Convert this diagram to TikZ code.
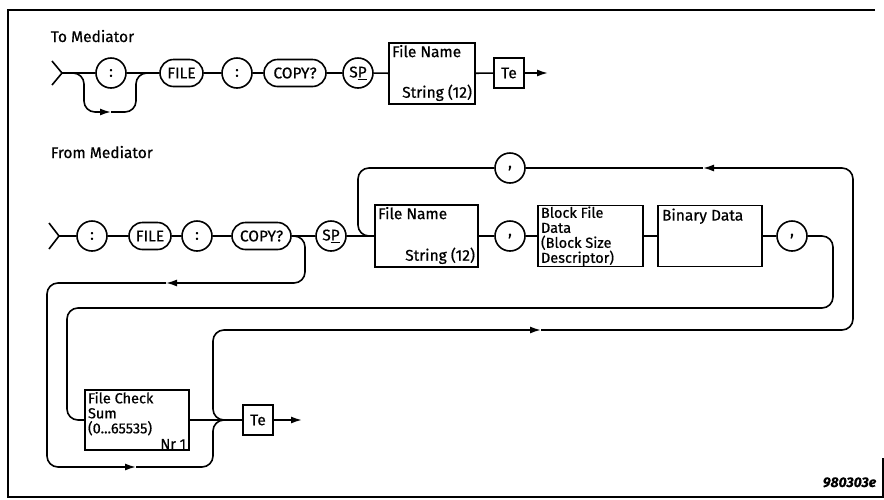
\documentclass[tikz,border=0pt]{standalone}
\usepackage{fontspec}
\setmainfont{Fira Sans}[FakeBold=0.6]
\usetikzlibrary{arrows.meta,shapes.misc}
\begin{document}
\begin{tikzpicture}[x=1pt,y=-1pt,
  font=\fontsize{15.5}{15.5}\selectfont,
  line width=1.6pt,
  circ/.style={circle,draw,minimum size=30pt,inner sep=0pt},
  pill/.style={rounded rectangle,draw,minimum height=27pt,inner xsep=2pt,inner ysep=0pt},
  rbox/.style={rectangle,draw,inner sep=0pt},
  tebox/.style={rectangle,draw,minimum size=30pt,inner sep=0pt},
  arr/.style={-{Latex[length=11pt,width=7pt]}},
  loop/.style={rounded corners=11pt},
  txt/.style={inner sep=0pt,align=left},
  mtxt/.style={inner sep=0pt,align=left,font=\fontsize{14.5}{15}\selectfont}
]
\useasboundingbox (0,0) rectangle (884,499);
% frame
\draw[line width=1.2pt] (875,10) -- (8,10) -- (8,497) -- (883,497) -- (883,458);

% ---------- To Mediator ----------
\node[txt,anchor=base west] (t1) at (50,42) {To Mediator};
\draw (52,61) -- (62,73) -- (52,85);
\coordinate (st1) at (62,73);
\node[circ] (c1) at (111,73) {:};
\node[pill,minimum width=47pt] (file1) at (181.5,73) {FILE};
\node[circ] (c2) at (237,73) {:};
\node[pill,minimum width=66pt] (copy1) at (295,73) {COPY?};
\node[circ] (sp1) at (358,73) {S\underline{P}};
\node[rbox,minimum width=86pt,minimum height=61pt] (fn1) at (432,73.5) {};
\node[txt,anchor=north west] at ([shift={(3,2)}]fn1.north west) {File Name};
\node[txt,anchor=south east] at ([shift={(-3,-3)}]fn1.south east) {String (12)};
\node[tebox] (te1) at (509,73) {Te};
\coordinate (e1) at (548,73);
\draw (st1) -- (c1) -- (file1) -- (c2) -- (copy1) -- (sp1) -- (fn1) -- (te1);
\draw[arr] (te1) -- (e1);
% bypass of first colon
\coordinate (b1) at (70,73);
\coordinate (b2) at (111,112);
\coordinate (b3) at (148,73);
\draw[arr,loop] (b1) -| (84,112) -- (b2);
\draw[loop] (b2) -| (136,73) -- (b3);

% ---------- From Mediator ----------
\node[txt,anchor=base west] (t2) at (50,158) {From Mediator};
\draw (49,223) -- (59,236) -- (49,249);
\coordinate (st2) at (59,236);
\node[circ] (d1) at (92,236) {:};
\node[pill,minimum width=46pt] (file2) at (150,236) {FILE};
\node[circ] (d2) at (197,236) {:};
\node[pill,minimum width=63pt] (copy2) at (261.5,236) {COPY?};
\node[circ] (sp2) at (331,236) {S\underline{P}};
\node[rbox,minimum width=103pt,minimum height=62pt] (fn2) at (426.5,236) {};
\node[txt,anchor=north west] at ([shift={(3,2)}]fn2.north west) {File Name};
\node[txt,anchor=south east] at ([shift={(-3,-3)}]fn2.south east) {String (12)};
\node[circ] (k1) at (510,236) {,};
\node[rbox,minimum width=105pt,minimum height=61pt] (bfd) at (590.5,236) {};
\node[mtxt,anchor=north west] at ([shift={(3,1)}]bfd.north west) {Block File\\Data\\(Block Size\\Descriptor)};
\node[rbox,minimum width=104pt,minimum height=61pt] (bin) at (710,236) {};
\node[txt,anchor=north west] at ([shift={(4,3)}]bin.north west) {Binary Data};
\node[circ] (k2) at (792,236) {,};
\node[circ] (k0) at (510,168) {,};
\node[rbox,minimum width=104pt,minimum height=60pt] (fcs) at (137,420) {};
\node[mtxt,anchor=north west] at ([shift={(3,2)}]fcs.north west) {File Check\\Sum\\(0...65535)};
\node[txt,anchor=south east,font=\fontsize{14.5}{14.5}\selectfont] at ([shift={(-3,-1)}]fcs.south east) {Nr 1};
\node[tebox] (te2) at (258,420) {Te};
\coordinate (e2) at (302,420);

\draw (st2) -- (d1) -- (file2) -- (d2) -- (copy2) -- (sp2) -- (fn2) -- (k1) -- (bfd) -- (bin) -- (k2);
\draw (fcs) -- (te2);
\draw[arr] (te2) -- (e2);

% inner loop: after last comma back to File Check Sum
\draw[loop] (k2) -| (833,308) -| (67,420) -- (fcs);

% outer loop: from after File Check Sum back via comma to File Name
\coordinate (ja) at (232,420);
\coordinate (a1) at (541,330);
\coordinate (a2) at (703,168);
\draw[arr,loop] (ja) -| (213,330) -- (a1);
\draw[arr,loop] (a1) -| (853,168) -- (a2);
\draw (a2) -- (k0);
\draw[loop] (k0) -| (358,236) -- (fn2);

% bypass after COPY? directly to Te
\coordinate (cb) at (295,236);
\coordinate (a3) at (166,283);
\coordinate (a4) at (136,467);
\draw[arr,loop] (cb) -| (305,283) -- (a3);
\draw[arr,loop] (a3) -| (47,467) -- (a4);
\draw[loop] (a4) -| (213,420) -- (ja);

\node[txt,anchor=base east,font=\fontsize{14}{14}\selectfont\bfseries\itshape] (fig) at (877,487) {980303e};
\end{tikzpicture}
\end{document}
